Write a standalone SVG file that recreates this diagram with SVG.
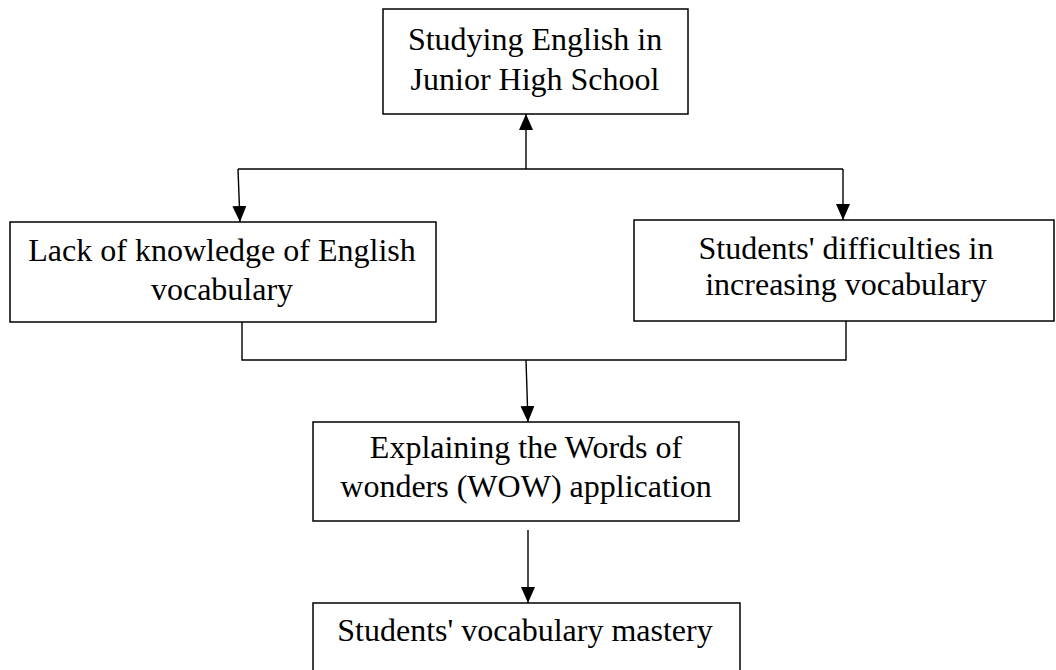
<svg xmlns="http://www.w3.org/2000/svg" width="1056" height="670" viewBox="0 0 1056 670">
<style>
.box{fill:#fff;stroke:#000;stroke-width:1.5}
.t{font-family:"Liberation Serif","Times New Roman",serif;font-size:32px;fill:#000;text-anchor:middle}
.c{fill:none;stroke:#000;stroke-width:1.4}
</style>
<defs>
<marker id="ah" markerUnits="userSpaceOnUse" viewBox="0 0 16 14" refX="16" refY="7" markerWidth="16" markerHeight="14" orient="auto">
<path d="M0,0 L16,7 L0,14 z" fill="#000"/>
</marker>
</defs>
<rect width="1056" height="670" fill="#fff"/>
<g id="connectors">
<path class="c" d="M526,169 L526,114" marker-end="url(#ah)"/>
<path class="c" d="M238,169 L843,169"/>
<path class="c" d="M238,169 L240,222" marker-end="url(#ah)"/>
<path class="c" d="M843,169 L843,220" marker-end="url(#ah)"/>
<path class="c" d="M242,322 L242,360 L846,360 L846,320"/>
<path class="c" d="M526,360 L528,422" marker-end="url(#ah)"/>
<path class="c" d="M528,530 L528,603" marker-end="url(#ah)"/>
</g>
<g id="n-top">
<rect class="box" x="383" y="9" width="305" height="105"/>
<text class="t" x="535" y="50">Studying English in</text>
<text class="t" x="535" y="90">Junior High School</text>
</g>
<g id="n-left">
<rect class="box" x="10" y="222" width="426" height="100"/>
<text class="t" x="222" y="261">Lack of knowledge of English</text>
<text class="t" x="222" y="300">vocabulary</text>
</g>
<g id="n-right">
<rect class="box" x="634" y="220" width="420" height="101"/>
<text class="t" x="846" y="259">Students' difficulties in</text>
<text class="t" x="846" y="295">increasing vocabulary</text>
</g>
<g id="n-mid">
<rect class="box" x="313" y="422" width="426" height="99"/>
<text class="t" x="526" y="458">Explaining the Words of</text>
<text class="t" x="526" y="497">wonders (WOW) application</text>
</g>
<g id="n-bottom">
<rect class="box" x="313" y="603" width="427" height="80"/>
<text class="t" x="525" y="641">Students' vocabulary mastery</text>
</g>
</svg>
